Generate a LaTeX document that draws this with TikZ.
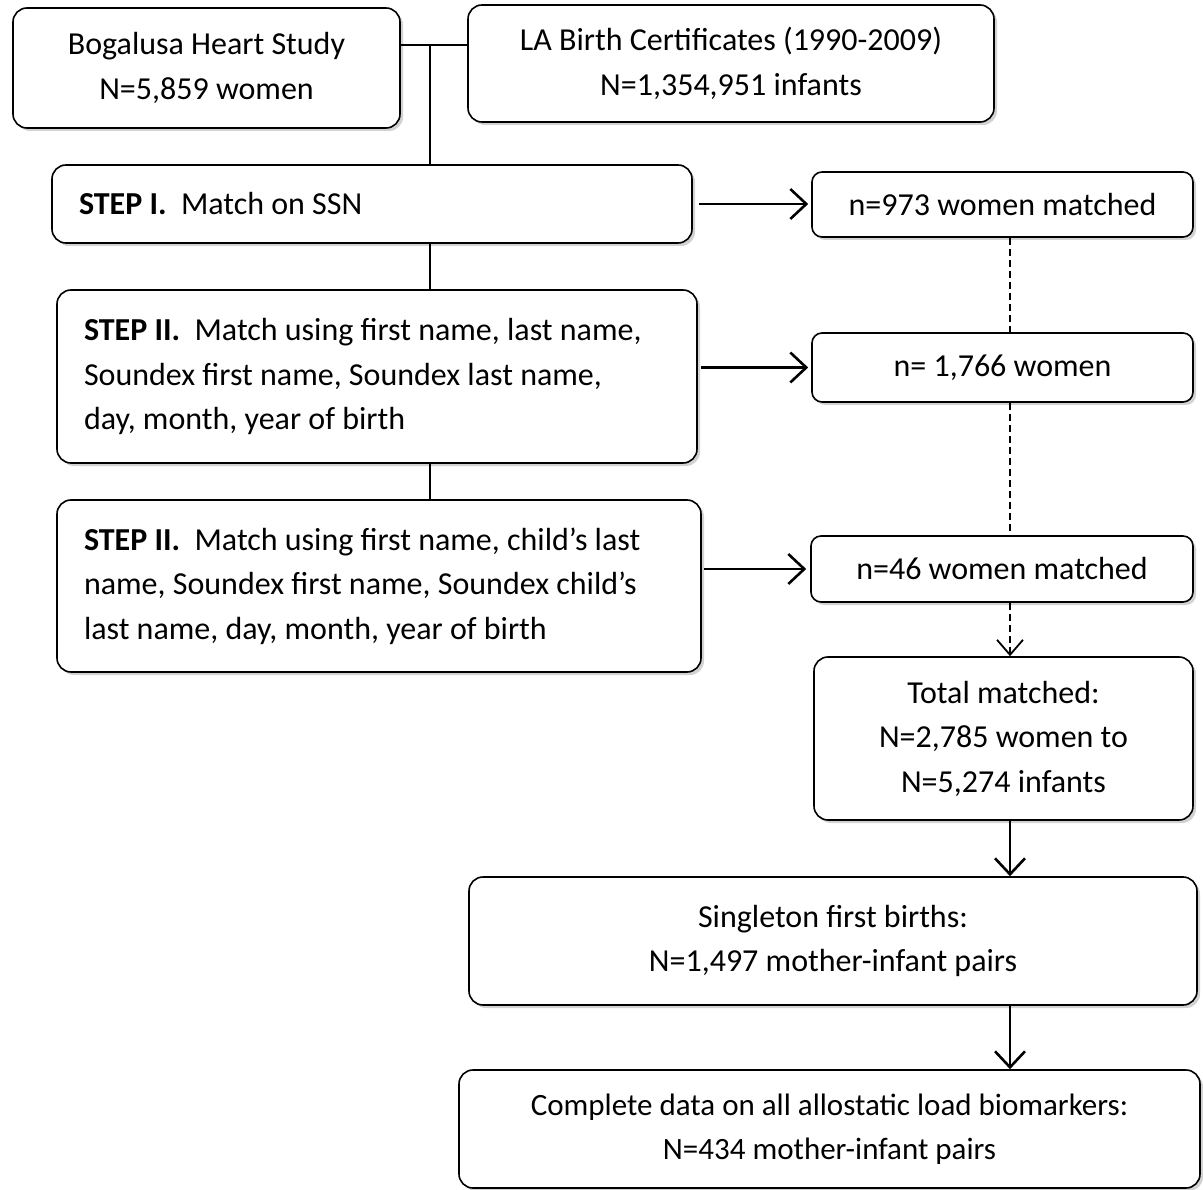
\documentclass[tikz,border=0pt]{standalone}
\usepackage{fontspec}
\setmainfont{Carlito}
\usetikzlibrary{arrows.meta,shadows}

\begin{document}
\begin{tikzpicture}[x=1pt,y=-1pt,
    box/.style={draw,line width=1.6pt,fill=white,rounded corners=14pt,
        drop shadow={shadow xshift=3pt,shadow yshift=-3pt,fill=black!35},
        font=\fontsize{32}{44.5}\selectfont,align=center,inner sep=0pt},
    stepbox/.style={box,align=flush left,inner xsep=27pt},
    small/.style={box,rounded corners=10pt},
    link/.style={line width=2.6pt},
    arr/.style={line width=2.6pt,-{Straight Barb[length=16pt,width=30pt,line width=2.6pt]}},
    dline/.style={line width=1.5pt,dash pattern=on 7pt off 4pt}]

    \useasboundingbox (0,0) rectangle (1203,1190);

    \node[box,minimum width=387pt,minimum height=120pt] (bog) at (206.5,68) {Bogalusa Heart Study\\N=5,859 women};
    \node[box,minimum width=526pt,minimum height=117pt] (la) at (731,63.5) {LA Birth Certificates (1990-2009)\\N=1,354,951 infants};

    \node[stepbox,minimum width=640pt,minimum height=78pt,text width=586pt] (s1) at (372,204) {\textbf{STEP I.}\ \ Match on SSN};
    \node[stepbox,minimum width=640pt,minimum height=173pt,text width=586pt] (s2) at (377,376.5) {\textbf{STEP II.}\ \ Match using first name, last name,\\Soundex first name, Soundex last name,\\day, month, year of birth};
    \node[stepbox,minimum width=644pt,minimum height=172pt,text width=590pt] (s3) at (379,586) {\textbf{STEP II.}\ \ Match using first name, child’s last\\name, Soundex first name, Soundex child’s\\last name, day, month, year of birth};

    \node[small,minimum width=381pt,minimum height=65pt] (r1) at (1002.5,204.5) {n=973 women matched};
    \node[small,minimum width=381pt,minimum height=69pt] (r2) at (1002.5,367.5) {n= 1,766 women};
    \node[small,minimum width=382pt,minimum height=66pt] (r3) at (1002,569) {n=46 women matched};

    \node[box,minimum width=379pt,minimum height=163pt] (tot) at (1003.5,738.5) {Total matched:\\N=2,785 women to\\N=5,274 infants};
    \node[box,minimum width=728pt,minimum height=128pt] (single) at (833,941) {Singleton first births:\\N=1,497 mother-infant pairs};
    \node[box,minimum width=741pt,minimum height=118pt,font=\fontsize{31}{44.5}\selectfont] (full) at (829.5,1129) {Complete data on all allostatic load biomarkers:\\N=434 mother-infant pairs};

    \coordinate (jn) at (430,45);
    \coordinate (dx) at (1010,0);

    \draw[link] (bog.east |- jn) -- (la.west |- jn);
    \draw[link] (jn) -- (jn |- s1.north);
    \draw[link] (jn |- s1.south) -- (jn |- s2.north);
    \draw[link] (jn |- s2.south) -- (jn |- s3.north);

    \draw[arr,shorten <=6pt,shorten >=3pt] (s1.east) -- (s1.east -| r1.west);
    \draw[arr,shorten <=3pt,shorten >=3pt] (s2.east |- r2) -- (r2.west);
    \draw[arr,shorten <=2pt,shorten >=4pt] (s3.east |- r3) -- (r3.west);

    \draw[dline] (r1.south -| dx) -- (r2.north -| dx);
    \draw[dline] (r2.south -| dx) -- (r3.north -| dx);
    \draw[dline,-{Straight Barb[length=15pt,width=26pt,line width=1.8pt]}] (r3.south -| dx) -- (tot.north -| dx);

    \draw[arr] (tot.south -| dx) -- (single.north -| dx);
    \draw[arr] (single.south -| dx) -- (full.north -| dx);

\end{tikzpicture}
\end{document}
